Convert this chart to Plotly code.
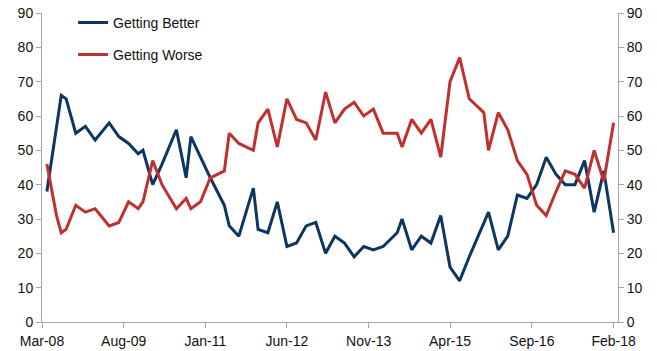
import plotly.graph_objects as go

# Survey dates (month of each reading)
dates = [
    "2008-04", "2008-06", "2008-07", "2008-08", "2008-10", "2008-12", "2009-02",
    "2009-05", "2009-07", "2009-09", "2009-11", "2009-12", "2010-02", "2010-04",
    "2010-07", "2010-09", "2010-10", "2010-12", "2011-02", "2011-05", "2011-06",
    "2011-08", "2011-11", "2011-12", "2012-02", "2012-04", "2012-06", "2012-08",
    "2012-10", "2012-12", "2013-02", "2013-04", "2013-06", "2013-08", "2013-10",
    "2013-12", "2014-02", "2014-05", "2014-06", "2014-08", "2014-10", "2014-12",
    "2015-02", "2015-04", "2015-06", "2015-08", "2015-11", "2015-12", "2016-02",
    "2016-04", "2016-06", "2016-08", "2016-10", "2016-12", "2017-02", "2017-04",
    "2017-06", "2017-08", "2017-10", "2017-12", "2018-02",
]

getting_better = [
    38, 56, 66, 65, 55, 57, 53,
    58, 54, 52, 49, 50, 40, 46,
    56, 42, 54, 48, 42, 34, 28,
    25, 39, 27, 26, 35, 22, 23,
    28, 29, 20, 25, 23, 19, 22,
    21, 22, 26, 30, 21, 25, 23,
    31, 16, 12, 19, 29, 32, 21,
    25, 37, 36, 40, 48, 43, 40,
    40, 47, 32, 44, 26,
]

getting_worse = [
    46, 31, 26, 27, 34, 32, 33,
    28, 29, 35, 33, 35, 47, 40,
    33, 36, 33, 35, 42, 44, 55,
    52, 50, 58, 62, 51, 65, 59,
    58, 53, 67, 58, 62, 64, 60,
    62, 55, 55, 51, 59, 55, 59,
    48, 70, 77, 65, 61, 50, 61,
    56, 47, 43, 34, 31, 38, 44,
    43, 39, 50, 41, 58,
]

y_ticks = [0, 10, 20, 30, 40, 50, 60, 70, 80, 90]

BLUE = "#0C365F"
RED = "#C0302E"
AXIS = "#A6A6A6"
TEXT = "#111111"
FONT = "Liberation Sans, Arial, sans-serif"

fig = go.Figure()
fig.add_trace(go.Scatter(
    x=dates, y=getting_better, mode="lines", name="Getting Better",
    line=dict(color=BLUE, width=3), legendgroup="better",
))
fig.add_trace(go.Scatter(
    x=dates, y=getting_worse, mode="lines", name="Getting Worse",
    line=dict(color=RED, width=3), legendgroup="worse",
    yaxis="y2",
))

axis_style = dict(
    showgrid=False, zeroline=False,
    showline=True, linecolor=AXIS, linewidth=1,
    ticks="outside", ticklen=5, tickcolor=AXIS,
    tickfont=dict(family=FONT, size=14, color=TEXT),
)

fig.update_layout(
    width=657, height=351,
    margin=dict(l=42, r=39, t=13, b=29, autoexpand=False),
    paper_bgcolor="white", plot_bgcolor="white",
    font=dict(family=FONT, size=14, color=TEXT),
    showlegend=True,
    legend=dict(
        x=0.054, y=1.02, xanchor="left", yanchor="top",
        bgcolor="rgba(0,0,0,0)", borderwidth=0,
        traceorder="grouped", tracegroupgap=11,
        font=dict(family=FONT, size=14, color=TEXT),
    ),
    xaxis=dict(
        type="date",
        range=["2008-03-01", "2018-03-01"],
        tick0="2008-03-01", dtick="M17", tickformat="%b-%y",
        ticklabelstandoff=1,
        **axis_style,
    ),
    yaxis=dict(range=[0, 90], tickvals=y_ticks, **axis_style),
    yaxis2=dict(
        range=[0, 90], tickvals=y_ticks,
        overlaying="y", side="right",
        **axis_style,
    ),
)

fig.write_html("out.html")
